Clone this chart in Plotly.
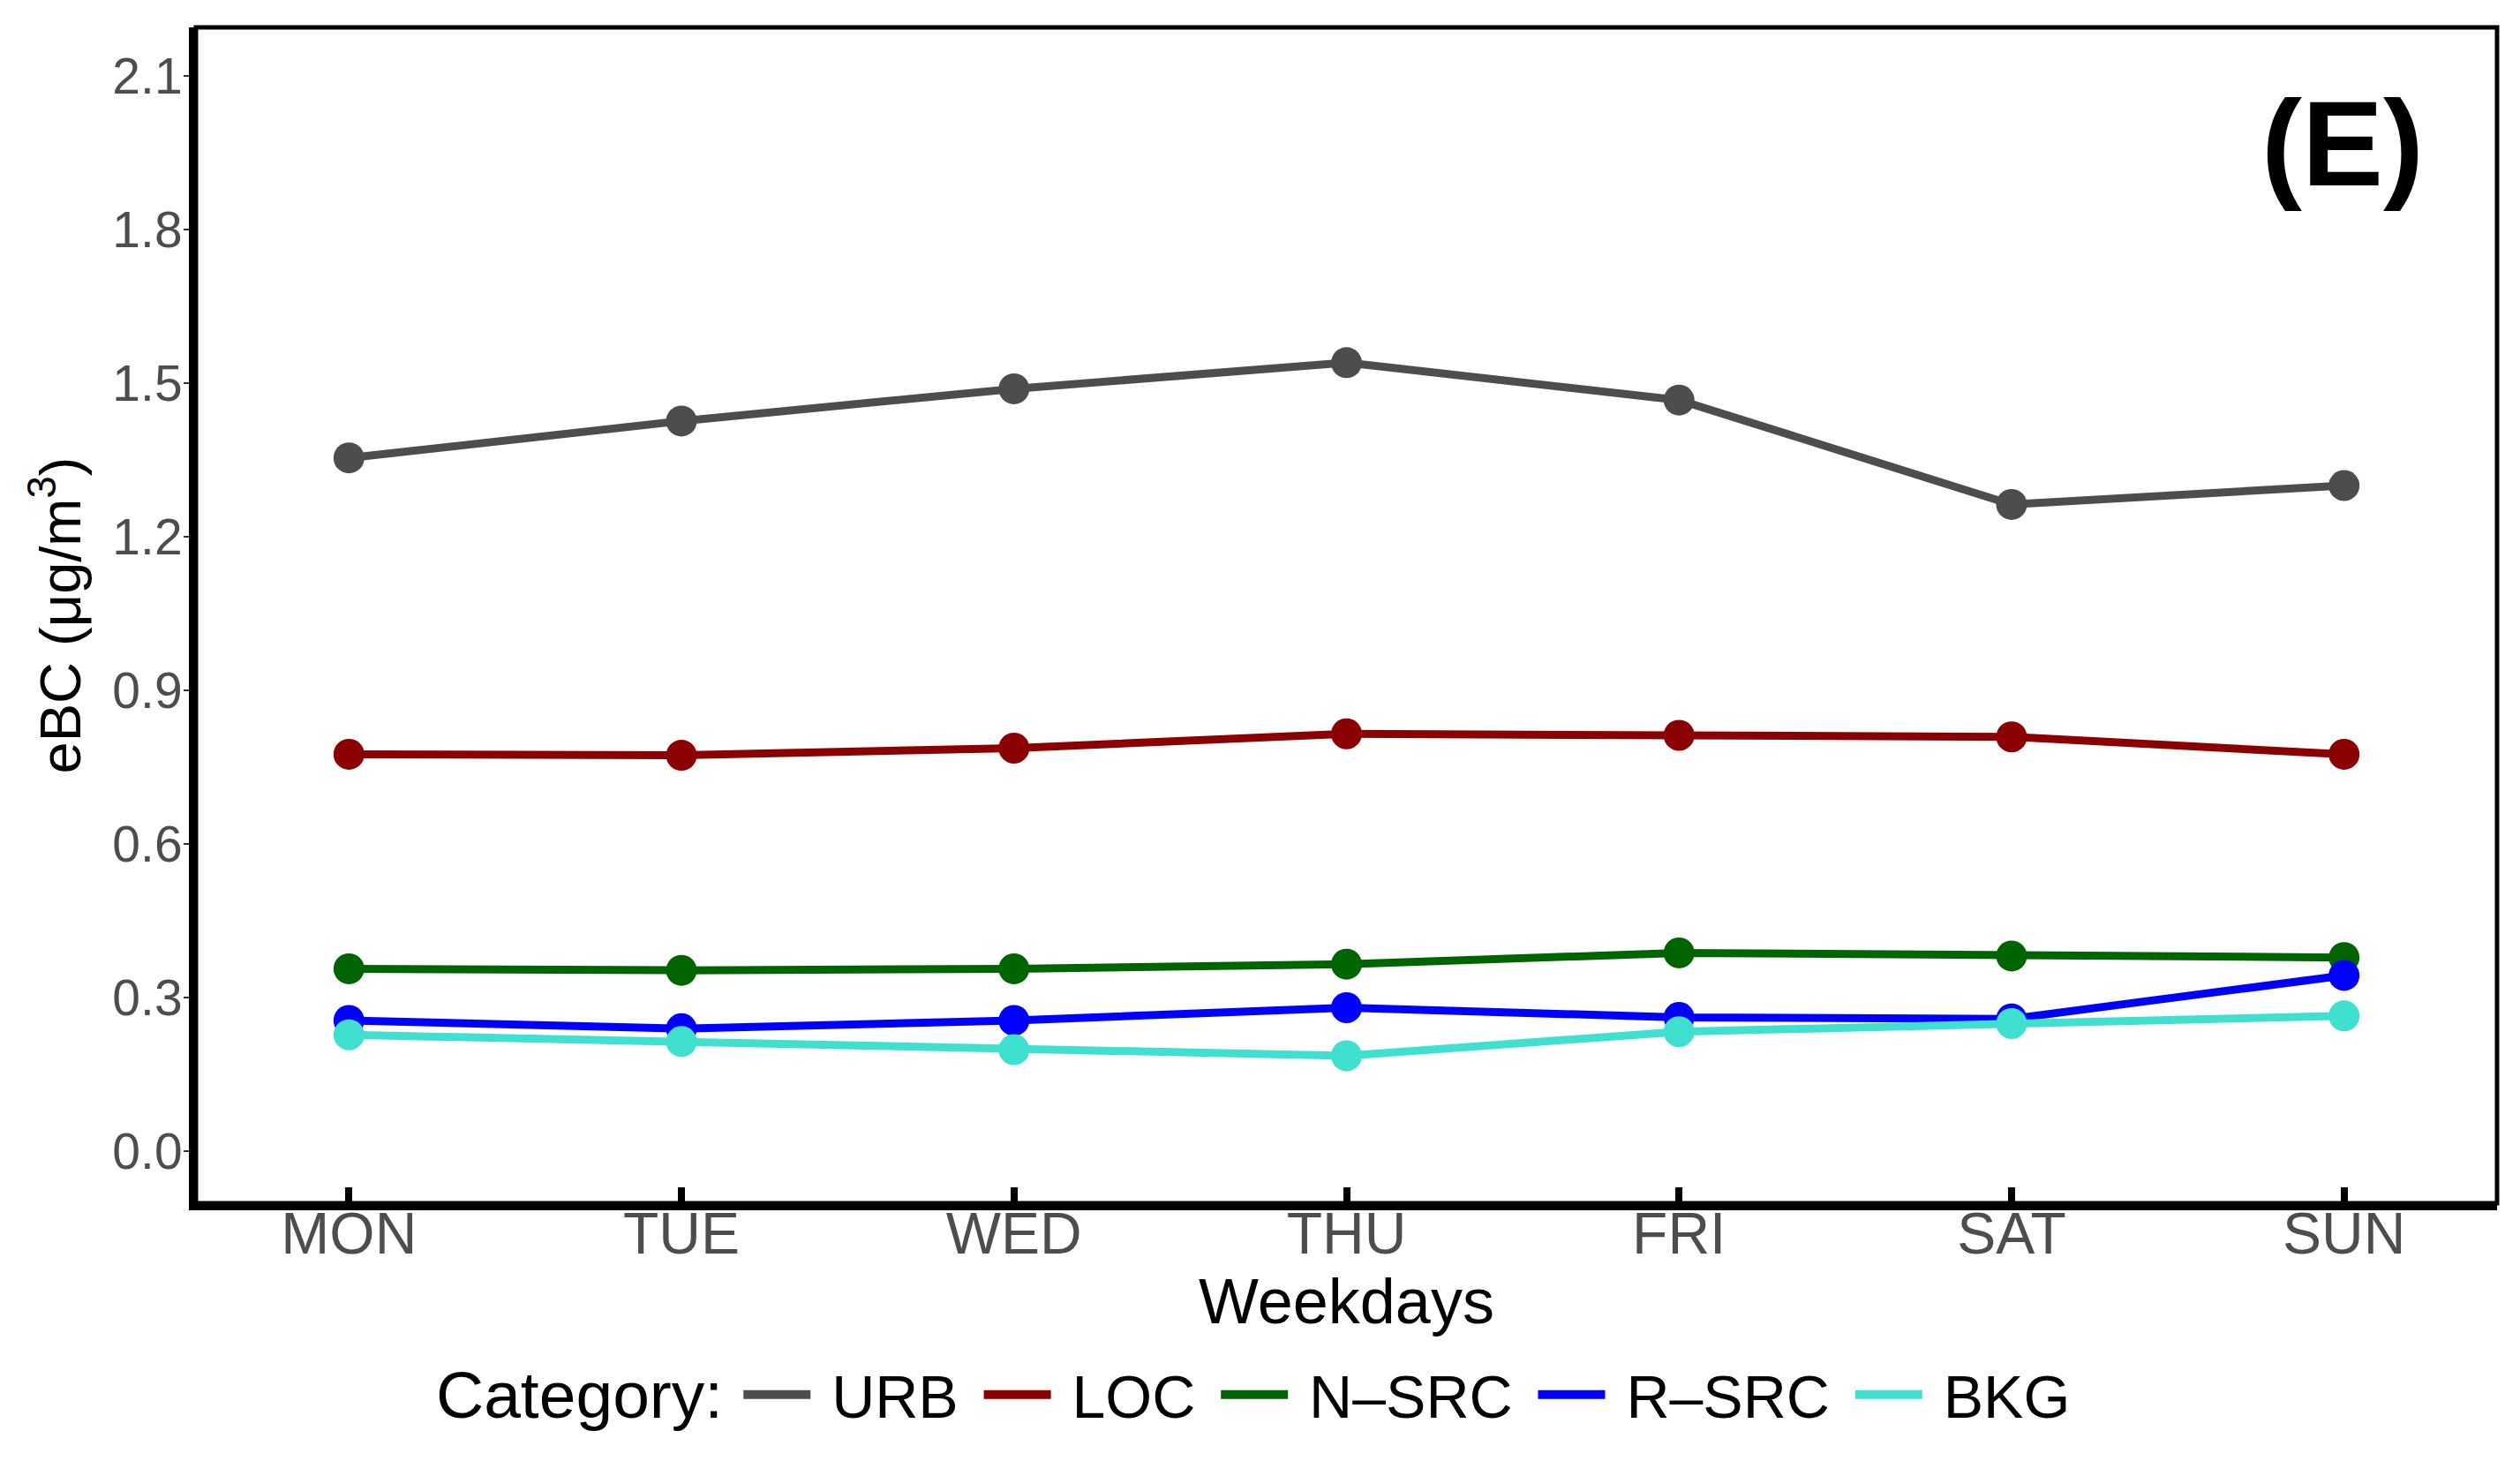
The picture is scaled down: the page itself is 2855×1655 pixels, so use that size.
import plotly.graph_objects as go

# ---- data ----
days = ["MON", "TUE", "WED", "THU", "FRI", "SAT", "SUN"]
categories = ["URB", "LOC", "N–SRC", "R–SRC", "BKG"]
urb = [1.354, 1.426, 1.489, 1.540, 1.467, 1.263, 1.300]
loc_ = [0.775, 0.773, 0.787, 0.815, 0.812, 0.809, 0.775]
nsrc = [0.356, 0.353, 0.356, 0.365, 0.387, 0.381, 0.378]
rsrc = [0.255, 0.239, 0.255, 0.280, 0.261, 0.258, 0.343]
bkg = [0.227, 0.214, 0.198, 0.186, 0.233, 0.249, 0.264]
series = [urb, loc_, nsrc, rsrc, bkg]
colors = ["#4d4d4d", "#8b0000", "#006400", "#0000ff", "#40e0d0"]
yticks = [0.0, 0.3, 0.6, 0.9, 1.2, 1.5, 1.8, 2.1]

FONT = "Liberation Sans, Arial, sans-serif"
NBSP = "\u00a0"

fig = go.Figure()
for name, vals, col in zip(categories, series, colors):
    fig.add_trace(go.Scatter(
        x=days, y=vals, mode="lines+markers", name=name,
        line=dict(color=col, width=9),
        marker=dict(color=col, size=35),
        showlegend=False,
    ))
# legend keys (lines only, as in the reference)
for name, col in zip(categories, colors):
    fig.add_trace(go.Scatter(
        x=[None], y=[None], mode="lines", name=NBSP + name + NBSP,
        line=dict(color=col, width=13), showlegend=True,
    ))

fig.update_layout(
    width=2855, height=1655,
    margin=dict(l=222, r=26, t=31, b=292),
    paper_bgcolor="white", plot_bgcolor="white",
    font=dict(family=FONT, color="black"),
    showlegend=True,
    legend=dict(
        orientation="h", x=0.236, xanchor="left", y=-0.163, yanchor="middle",
        font=dict(family=FONT, size=68, color="black"),
        itemwidth=76, traceorder="normal",
        bgcolor="rgba(0,0,0,0)",
    ),
    xaxis=dict(
        type="category", categoryorder="array", categoryarray=days,
        range=[-0.46, 6.46],
        showgrid=False, zeroline=False,
        showline=True, linecolor="black", linewidth=8,
        ticks="inside", ticklen=18, tickwidth=8, tickcolor="black",
        tickfont=dict(family=FONT, size=66, color="#4d4d4d"),
        ticklabelstandoff=-30,
        title=dict(text="Weekdays", standoff=4,
                   font=dict(family=FONT, size=72, color="black")),
    ),
    yaxis=dict(
        range=[-0.102, 2.195],
        tickvals=yticks, tickformat=".1f",
        showgrid=False, zeroline=False,
        showline=True, linecolor="black", linewidth=8,
        ticks="outside", ticklen=6, tickwidth=2, tickcolor="#333333",
        tickfont=dict(family=FONT, size=57, color="#4d4d4d"),
        ticklabelstandoff=-10,
        title=dict(text="eBC (μg/m<sup>3</sup>)", standoff=18,
                   font=dict(family=FONT, size=65, color="black")),
    ),
    shapes=[dict(type="rect", xref="paper", yref="paper", x0=0, x1=1, y0=0, y1=1,
                 line=dict(color="black", width=5), layer="above")],
    annotations=[
        dict(text="<b>(E)</b>", xref="paper", yref="paper",
             x=0.933, y=0.902, xanchor="center", yanchor="middle",
             showarrow=False,
             font=dict(family=FONT, size=138, color="black")),
        dict(text="Category:", xref="paper", yref="paper",
             x=0.1036, y=-0.163, xanchor="left", yanchor="middle",
             showarrow=False,
             font=dict(family=FONT, size=75, color="black")),
    ],
)

fig.write_html("out.html", config={"displayModeBar": False},
               post_script="document.body.style.margin='0';")
